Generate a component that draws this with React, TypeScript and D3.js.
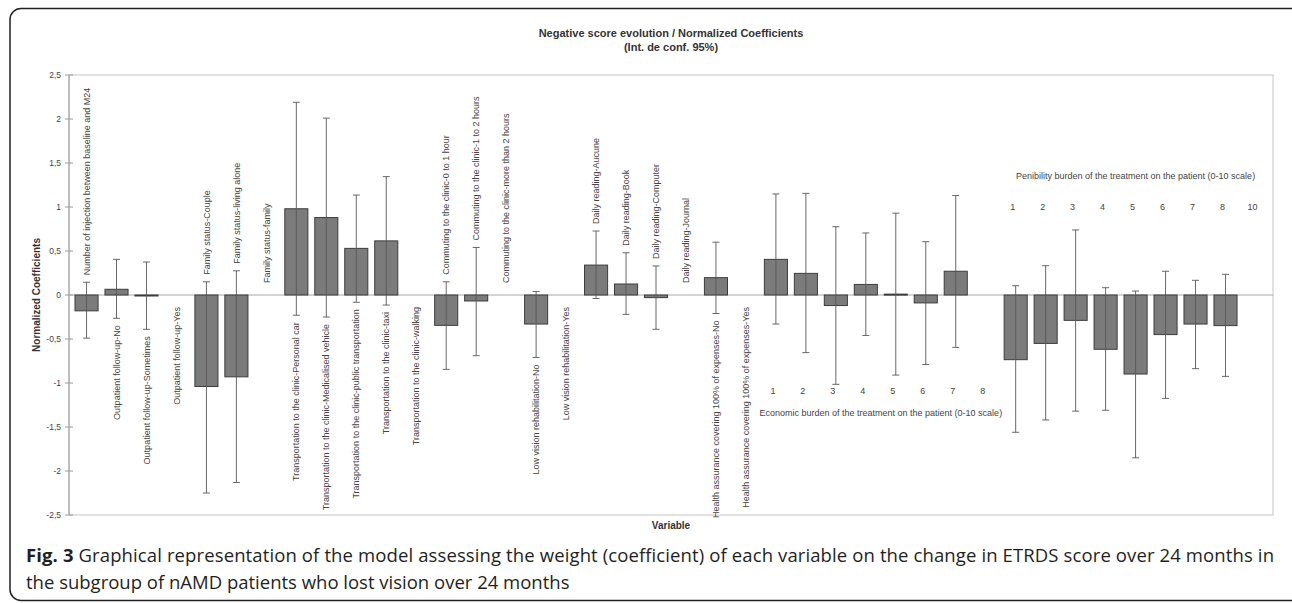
import React from 'react';
import * as d3 from 'd3';

// one entry per slot on the x axis; null = reference category (no bar)
const labels = [
  'Number of injection between baseline and M24',
  'Outpatient follow-up-No',
  'Outpatient follow-up-Sometimes',
  'Outpatient follow-up-Yes',
  'Family status-Couple',
  'Family status-living alone',
  'Family status-family',
  'Transportation to the clinic-Personal car',
  'Transportation to the clinic-Medicalised vehicle',
  'Transportation to the clinic-public transportation',
  'Transportation to the clinic-taxi',
  'Transportation to the clinic-walking',
  'Commuting to the clinic-0 to 1 hour',
  'Commuting to the clinic-1 to 2 hours',
  'Commuting to the clinic-more than 2 hours',
  'Low vision rehabilitation-No',
  'Low vision rehabilitation-Yes',
  'Daily reading-Aucune',
  'Daily reading-Book',
  'Daily reading-Computer',
  'Daily reading-Journal',
  'Health assurance covering 100% of expenses-No',
  'Health assurance covering 100% of expenses-Yes',
  '1', '2', '3', '4', '5', '6', '7', '8',
  '1', '2', '3', '4', '5', '6', '7', '8', '10',
];

const groups = [
  'inj', 'out', 'out', 'out', 'fam', 'fam', 'fam',
  'tra', 'tra', 'tra', 'tra', 'tra',
  'com', 'com', 'com', 'low', 'low',
  'rea', 'rea', 'rea', 'rea', 'hea', 'hea',
  'eco', 'eco', 'eco', 'eco', 'eco', 'eco', 'eco', 'eco',
  'pen', 'pen', 'pen', 'pen', 'pen', 'pen', 'pen', 'pen', 'pen',
];

// side where each group's labels are written
const groupSide: Record<string, 'up' | 'down'> = {
  inj: 'up', out: 'down', fam: 'up', tra: 'down', com: 'up',
  low: 'down', rea: 'up', hea: 'down', eco: 'down', pen: 'up',
};

const coef = [
  -0.18, 0.065, -0.01, null, -1.04, -0.93, null,
  0.98, 0.88, 0.53, 0.615, null,
  -0.345, -0.068, null, -0.33, null,
  0.34, 0.125, -0.03, null, 0.197, null,
  0.405, 0.246, -0.12, 0.12, 0.01, -0.09, 0.27, null,
  -0.735, -0.55, -0.288, -0.617, -0.898, -0.45, -0.33, -0.348, null,
];

const ciLow = [
  -0.49, -0.265, -0.39, null, -2.25, -2.13, null,
  -0.23, -0.25, -0.083, -0.114, null,
  -0.845, -0.69, null, -0.71, null,
  -0.04, -0.22, -0.39, null, -0.21, null,
  -0.33, -0.655, -1.015, -0.46, -0.91, -0.79, -0.595, null,
  -1.56, -1.42, -1.32, -1.31, -1.85, -1.175, -0.837, -0.925, null,
];

const ciHigh = [
  0.145, 0.405, 0.375, null, 0.15, 0.275, null,
  2.19, 2.01, 1.136, 1.345, null,
  0.15, 0.54, null, 0.04, null,
  0.727, 0.48, 0.33, null, 0.6, null,
  1.148, 1.155, 0.776, 0.705, 0.93, 0.606, 1.13, null,
  0.106, 0.333, 0.739, 0.083, 0.045, 0.27, 0.167, 0.235, null,
];

const yTicks = [2.5, 2, 1.5, 1, 0.5, 0, -0.5, -1, -1.5, -2, -2.5];

const groupTitles: Record<string, string> = {
  eco: 'Economic burden of the treatment on the patient (0-10 scale)',
  pen: 'Penibility burden of the treatment on the patient (0-10 scale)',
};

const W = 1292;
const H = 603;
const plot = { left: 69, right: 1273, top: 75, bottom: 515 };
const labelFont = '"Liberation Sans", Arial, sans-serif';
const capFont = '"Open Sans", "Noto Sans", sans-serif';

export default function App() {
  const idx = d3.range(labels.length);
  const x = d3.scaleBand<number>()
    .domain(idx)
    .range([plot.left, plot.right])
    .paddingInner(0.23)
    .paddingOuter(0.2);
  const y = d3.scaleLinear().domain([-2.5, 2.5]).range([plot.bottom, plot.top]);
  const fmt = (v: number) => d3.format('~g')(v).replace('.', ',').replace('−', '-');
  const cx = (i: number) => (x(i) ?? 0) + x.bandwidth() / 2;

  // category labels for the named variables
  const textLabels = idx.filter(i => groups[i] !== 'eco' && groups[i] !== 'pen').map(i => {
    const side = groupSide[groups[i]];
    const gap = 7;
    let py: number;
    if (coef[i] == null) {
      py = side === 'up' ? y(0) - 12 : y(0) + 12;
    } else {
      py = side === 'up' ? y(ciHigh[i] as number) - gap : y(ciLow[i] as number) + gap;
    }
    return { i, py, anchor: side === 'up' ? 'start' : 'end' };
  });

  // numbered scales (economic / penibility)
  const scaleGroups = ['eco', 'pen'].map(g => {
    const members = idx.filter(i => groups[i] === g);
    const up = groupSide[g] === 'up';
    const ext = up
      ? d3.max(members, i => ciHigh[i] ?? 0) as number
      : d3.min(members, i => ciLow[i] ?? 0) as number;
    const numY = up ? y(ext) - 23 : y(ext) + 7;
    const titleY = up ? numY - 31 : numY + 22;
    const mid = (cx(members[0]) + cx(members[members.length - 1])) / 2;
    return { g, members, numY, titleY, mid };
  });

  return (
    <svg width={W} height={H} style={{ position: 'absolute', left: 0, top: 0, background: '#fff' }}>
      <rect x={10} y={8.5} width={1300} height={592} rx={11} fill="none" stroke="#222" strokeWidth={1.5} />

      <text x={(plot.left + plot.right) / 2} y={37} textAnchor="middle" fontFamily={labelFont}
        fontWeight="bold" fontSize={11} fill="#333">Negative score evolution / Normalized Coefficients</text>
      <text x={(plot.left + plot.right) / 2} y={51} textAnchor="middle" fontFamily={labelFont}
        fontWeight="bold" fontSize={11} fill="#333">(Int. de conf. 95%)</text>

      <rect x={plot.left} y={plot.top} width={plot.right - plot.left} height={plot.bottom - plot.top}
        fill="none" stroke="#c4c4c4" strokeWidth={1} />
      <line x1={plot.left} x2={plot.left} y1={plot.top} y2={plot.bottom} stroke="#9a9a9a" />

      {yTicks.map(t => (
        <g key={t}>
          <line x1={plot.left - 4} x2={plot.left + 4} y1={y(t)} y2={y(t)} stroke="#9a9a9a" />
          <text x={plot.left - 8} y={y(t)} dy="0.35em" textAnchor="end" fontFamily={labelFont}
            fontSize={8.5} fill="#444">{fmt(t)}</text>
        </g>
      ))}
      <line x1={plot.left} x2={plot.right} y1={y(0)} y2={y(0)} stroke="#a8a8a8" />

      <text transform={`translate(36,${(plot.top + plot.bottom) / 2}) rotate(-90)`} textAnchor="middle"
        dy="0.35em" fontFamily={labelFont} fontWeight="bold" fontSize={10} fill="#333">Normalized Coefficients</text>
      <text x={(plot.left + plot.right) / 2} y={525} dy="0.35em" textAnchor="middle" fontFamily={labelFont}
        fontWeight="bold" fontSize={10} fill="#333">Variable</text>

      {idx.filter(i => coef[i] != null).map(i => {
        const v = coef[i] as number;
        return (
          <rect key={`b${i}`} x={x(i)} y={Math.min(y(v), y(0))} width={x.bandwidth()}
            height={Math.max(Math.abs(y(v) - y(0)), 1)} fill="#7b7b7b" stroke="#3c3c3c" strokeWidth={1} />
        );
      })}

      {idx.filter(i => ciLow[i] != null).map(i => {
        const c = cx(i);
        const lo = y(ciLow[i] as number);
        const hi = y(ciHigh[i] as number);
        return (
          <g key={`e${i}`} stroke="#585858" strokeWidth={0.9}>
            <line x1={c} x2={c} y1={hi} y2={lo} />
            <line x1={c - 3.5} x2={c + 3.5} y1={hi} y2={hi} />
            <line x1={c - 3.5} x2={c + 3.5} y1={lo} y2={lo} />
          </g>
        );
      })}

      {textLabels.map(d => (
        <text key={`l${d.i}`} transform={`translate(${cx(d.i)},${d.py}) rotate(-90)`} dy="0.35em"
          textAnchor={d.anchor} fontFamily={labelFont} fontSize={9} fill="#444">{labels[d.i]}</text>
      ))}

      {scaleGroups.map(s => (
        <g key={s.g}>
          {s.members.map(i => (
            <text key={`n${i}`} x={cx(i) - 3} y={s.numY} dy="0.35em" textAnchor="middle"
              fontFamily={labelFont} fontSize={9} fill="#444">{labels[i]}</text>
          ))}
          <text x={s.mid} y={s.titleY} dy="0.35em" textAnchor="middle" fontFamily={labelFont}
            fontSize={9} fill="#444">{groupTitles[s.g]}</text>
        </g>
      ))}

      <text x={26} y={562} fontFamily={capFont} fontSize={18.5} fill="#231f20"
        textLength={1248} lengthAdjust="spacing">
        <tspan fontWeight="bold">Fig. 3</tspan>
        <tspan> Graphical representation of the model assessing the weight (coefficient) of each variable on the change in ETRDS score over 24 months in</tspan>
      </text>
      <text x={26} y={589} fontFamily={capFont} fontSize={18.5} fill="#231f20">
        the subgroup of nAMD patients who lost vision over 24 months
      </text>
    </svg>
  );
}
